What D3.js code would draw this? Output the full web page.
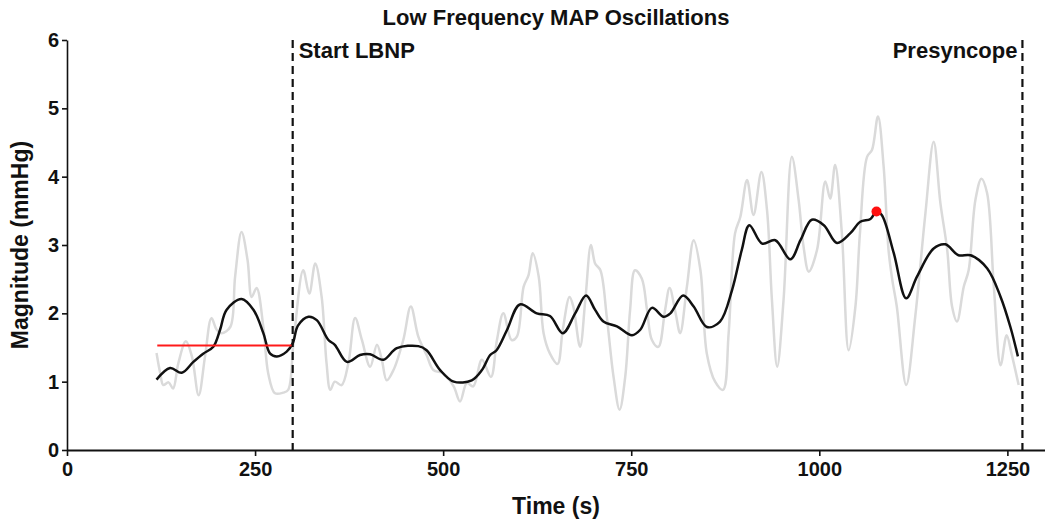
<!DOCTYPE html>
<html>
<head>
<meta charset="utf-8">
<script src="https://cdn.jsdelivr.net/npm/d3@7"></script>
<style>
  body { margin: 0; background: #fff; }
  svg text { font-family: "Liberation Sans", Arial, Helvetica, sans-serif; font-weight: bold; fill: #111; }
</style>
</head>
<body>
<svg id="svg"></svg>
<script>
const svg = d3.select("#svg")

// data

const rawTime = [119, 124, 128, 135, 141, 148, 158, 166, 175, 183.5, 192, 199, 205.5, 217, 223.5, 232, 240, 245.5, 252, 261, 267.5, 276.5, 287.5, 294, 301, 314, 322, 330, 338.5, 345, 350, 356, 365, 374, 383, 392, 403, 412, 418.5, 425, 434, 447, 457, 467, 478, 487, 500.5, 514, 522.5, 531.5, 540, 551.5, 563.5, 571.5, 580, 591, 598, 607, 613.5, 619, 627, 633.5, 642, 652, 659, 668, 673, 682, 689, 696.5, 702, 709, 717.5, 726.5, 734.5, 742, 748.5, 755, 764, 771, 777.5, 786, 795, 801, 809, 815, 824, 833, 842, 850.5, 861.5, 872, 879.5, 888, 895, 904, 912.5, 923, 930.5, 937, 944, 952.5, 963.5, 972.5, 979, 986, 997, 1008, 1014.5, 1021, 1030, 1039, 1048, 1054, 1063.5, 1070, 1078, 1085.5, 1092, 1097, 1103, 1115.5, 1127.5, 1141, 1152, 1161, 1170, 1176.5, 1183, 1192, 1198.5, 1207.5, 1215.5, 1223, 1232, 1241, 1249, 1255.5, 1265]
const rawMag = [1.42, 1.12, 0.95, 0.99, 0.90, 1.27, 1.59, 1.37, 0.80, 1.37, 1.93, 1.76, 1.71, 1.80, 2.54, 3.19, 2.78, 2.24, 2.37, 1.80, 1.12, 0.83, 0.84, 0.88, 1.56, 2.63, 2.29, 2.73, 2.24, 1.27, 0.88, 1.00, 0.95, 1.27, 1.93, 1.61, 1.22, 1.54, 1.32, 1.02, 1.17, 1.61, 2.10, 1.66, 1.39, 1.17, 1.12, 0.93, 0.71, 0.98, 0.93, 1.32, 1.07, 1.61, 2.00, 1.61, 1.66, 2.39, 2.56, 2.88, 2.54, 1.71, 1.41, 1.26, 1.76, 2.24, 2.10, 1.51, 2.20, 3.00, 2.73, 2.63, 1.95, 1.07, 0.59, 1.07, 2.05, 2.63, 2.51, 2.05, 1.61, 1.51, 2.05, 2.37, 2.00, 1.71, 2.39, 3.07, 2.63, 1.41, 1.00, 0.88, 1.71, 3.17, 3.41, 3.95, 3.44, 4.07, 3.51, 2.20, 1.22, 2.20, 4.29, 3.66, 2.98, 2.61, 2.93, 3.93, 3.68, 4.17, 3.17, 1.46, 2.10, 3.17, 4.29, 4.39, 4.88, 4.15, 2.93, 2.49, 2.10, 0.95, 1.95, 3.46, 4.51, 3.61, 2.93, 2.10, 1.88, 2.39, 2.63, 3.66, 3.97, 3.76, 2.39, 1.24, 1.68, 1.41, 0.95]

const smoothTime = [119, 137, 152.5, 168, 181, 194.5, 203.5, 212, 232, 248, 261, 270, 279, 292, 300, 307, 321, 332, 347.5, 356, 372, 389.5, 403, 420.5, 438.5, 467, 478, 496, 514, 538, 551.5, 562.5, 571, 585, 602, 624.5, 642, 659, 675.5, 690, 702, 713, 731, 751, 762, 777.5, 793, 802, 819, 833, 850.5, 868, 884, 897, 907, 924, 941.5, 961.5, 975, 990, 1006, 1023.5, 1041, 1054.5, 1068, 1076, 1083, 1099, 1115.5, 1130, 1152, 1167.5, 1185, 1201, 1223, 1241, 1254, 1264]
const smoothMag = [1.03, 1.20, 1.13, 1.29, 1.41, 1.51, 1.76, 2.05, 2.21, 2.05, 1.71, 1.41, 1.37, 1.44, 1.56, 1.82, 1.95, 1.90, 1.61, 1.54, 1.29, 1.39, 1.40, 1.32, 1.49, 1.52, 1.46, 1.17, 1.00, 1.02, 1.17, 1.39, 1.46, 1.76, 2.13, 2.00, 1.96, 1.71, 2.00, 2.26, 2.05, 1.88, 1.81, 1.68, 1.76, 2.08, 1.95, 2.00, 2.26, 2.10, 1.80, 1.88, 2.34, 2.93, 3.29, 3.02, 3.07, 2.79, 3.07, 3.37, 3.29, 3.03, 3.17, 3.34, 3.38, 3.49, 3.44, 2.88, 2.22, 2.54, 2.95, 3.01, 2.85, 2.85, 2.66, 2.24, 1.80, 1.37]

const baselineTime = [120, 300]
const baselineMag = 1.53
const peak = { time: 1076, mag: 3.49 }

const markers = [
    { time: 300, label: "Start LBNP", anchor: "start" },
    { time: 1270, label: "Presyncope", anchor: "end" }
]

const xTicks = [0, 250, 500, 750, 1000, 1250]
const yTicks = [0, 1, 2, 3, 4, 5, 6]


// layout

const width = 1045
const height = 522
const margin = { top: 40, right: 0, bottom: 72, left: 67 }

svg.attr("width", width)
    .attr("height", height)

const x = d3.scaleLinear()
    .domain([0, 1300])
    .range([margin.left, width - margin.right])

const y = d3.scaleLinear()
    .domain([0, 6])
    .range([height - margin.bottom, margin.top])


// axes

const xAxis = svg.append("g")
    .attr("transform", `translate(0,${y(0)})`)
    .call(d3.axisBottom(x).tickValues(xTicks).tickSize(6).tickSizeOuter(0).tickFormat(d3.format("d")))
xAxis.select(".domain").attr("stroke-width", 2.2).attr("stroke", "#111")
xAxis.selectAll(".tick line").attr("stroke-width", 1.6).attr("stroke", "#111")
xAxis.selectAll("text").attr("font-size", 20).attr("dy", "0.85em")

const yAxis = svg.append("g")
    .attr("transform", `translate(${x(0)},0)`)
    .call(d3.axisLeft(y).tickValues(yTicks).tickSize(5).tickSizeOuter(0).tickFormat(d3.format("d")))
yAxis.select(".domain").attr("stroke-width", 1.6).attr("stroke", "#111")
yAxis.selectAll(".tick line").attr("stroke-width", 1.6).attr("stroke", "#111")
yAxis.selectAll("text").attr("font-size", 20).attr("x", -8)


// lines

const line = d3.line()
    .x(d => x(d[0]))
    .y(d => y(d[1]))
    .curve(d3.curveCatmullRom.alpha(0.5))

svg.append("path")
    .datum(d3.zip(rawTime, rawMag))
    .attr("d", line)
    .attr("fill", "none")
    .attr("stroke", "#dadada")
    .attr("stroke-width", 2.5)

svg.append("path")
    .datum(d3.zip(smoothTime, smoothMag))
    .attr("d", line)
    .attr("fill", "none")
    .attr("stroke", "#111")
    .attr("stroke-width", 2.5)

svg.append("line")
    .attr("x1", x(baselineTime[0]))
    .attr("x2", x(baselineTime[1]))
    .attr("y1", y(baselineMag))
    .attr("y2", y(baselineMag))
    .attr("stroke", "#ff1a1a")
    .attr("stroke-width", 2)

svg.append("circle")
    .attr("cx", x(peak.time))
    .attr("cy", y(peak.mag))
    .attr("r", 5)
    .attr("fill", "#ff1010")


// event markers

markers.forEach(m => {
    svg.append("line")
        .attr("x1", x(m.time))
        .attr("x2", x(m.time))
        .attr("y1", y(6))
        .attr("y2", y(0))
        .attr("stroke", "#111")
        .attr("stroke-width", 2.2)
        .attr("stroke-dasharray", "8,5")
    svg.append("text")
        .attr("x", x(m.time) + (m.anchor == "start" ? 6 : -5))
        .attr("y", y(6) + 18)
        .attr("text-anchor", m.anchor)
        .attr("font-size", 22)
        .text(m.label)
})


// titles

svg.append("text")
    .attr("x", (x(0) + x(1300)) / 2)
    .attr("y", 25)
    .attr("text-anchor", "middle")
    .attr("font-size", 22)
    .text("Low Frequency MAP Oscillations")

svg.append("text")
    .attr("x", (x(0) + x(1300)) / 2)
    .attr("y", 514)
    .attr("text-anchor", "middle")
    .attr("font-size", 23)
    .text("Time (s)")

svg.append("text")
    .attr("transform", `translate(28,${(y(0) + y(6)) / 2}) rotate(-90)`)
    .attr("text-anchor", "middle")
    .attr("font-size", 23)
    .text("Magnitude (mmHg)")
</script>
</body>
</html>
